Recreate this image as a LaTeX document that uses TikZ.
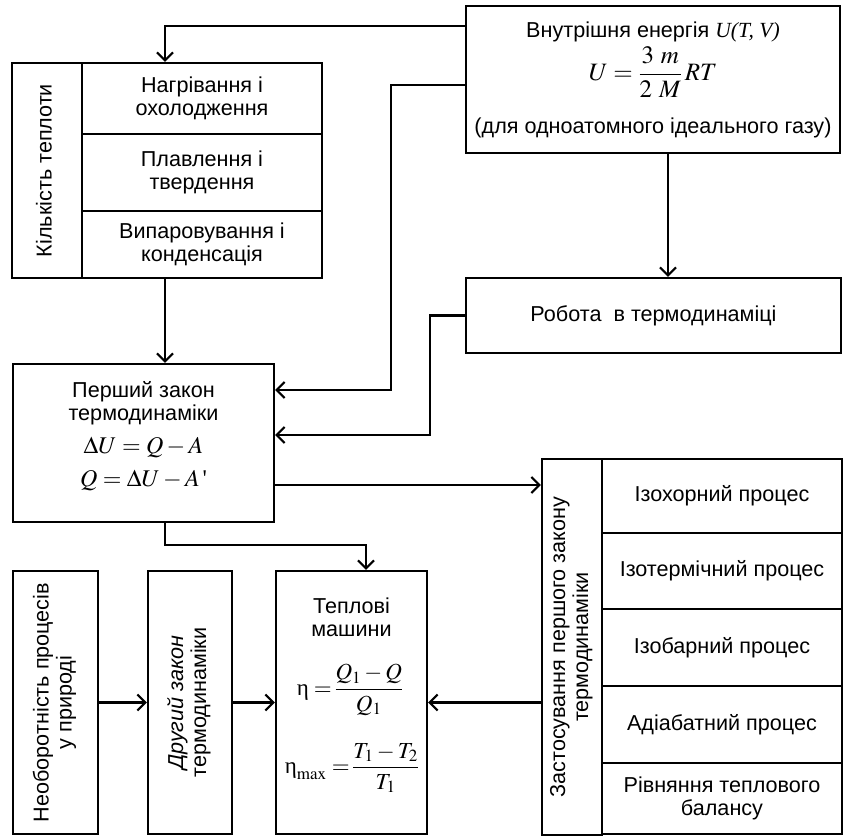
\documentclass[tikz,border=0pt]{standalone}
\usepackage{amsmath}
\usepackage{mathptmx}
\usepackage[no-math]{fontspec}
\setmainfont{Liberation Sans}
\newfontfamily\serifit{Liberation Serif}
\usetikzlibrary{arrows.meta}
\newcommand{\vlabel}[1]{\rotatebox{90}{\begin{tabular}{@{}c@{}}#1\end{tabular}}}
\newcommand{\eff}{\text{\serifit η}}
% formulas are set a little larger than the labels
\newcommand{\fml}[2][25]{{\fontsize{#1}{27}\selectfont$#2$}}
\begin{document}
\begin{tikzpicture}[x=1pt,y=-1pt,
  box/.style={draw, line width=2.2pt, inner sep=2pt, align=center,
    font=\fontsize{21.6}{23}\selectfont},
  txt/.style={inner sep=0pt, align=center, font=\fontsize{21.6}{23}\selectfont},
  arr/.style={line width=2.2pt, -{Straight Barb[length=8pt,width=16pt,line width=2.2pt]}}]
\useasboundingbox (0,0) rectangle (843,836);

% quantity of heat block
\node[box, minimum width=70pt, minimum height=215pt] (kt) at (47,170.5)
  {\vlabel{Кількість теплоти}};
\node[box, minimum width=240pt, minimum height=71pt] (k1) at (202,98.5)
  {Нагрівання і\\охолодження};
\node[box, minimum width=240pt, minimum height=77pt] (k2) at (202,172.5)
  {Плавлення і\\твердення};
\node[box, minimum width=240pt, minimum height=67pt] (k3) at (202,244.5)
  {Випаровування і\\конденсація};

% internal energy
\node[box, minimum width=374pt, minimum height=147pt] (U) at (653,79.5) {};
\node[txt] (Utitle) at (653,32) {Внутрішня енергія {\serifit\itshape U(T, V)}};
\node[txt] (Uformula) at (653,72) {\fml{U=\dfrac{3\ m}{2\ M}\,RT}};
\node[txt] (Unote) at (653,128) {(для одноатомного ідеального газу)};

% work
\node[box, minimum width=375pt, minimum height=75pt] (rb) at (653.5,315.5)
  {Робота\ \ в термодинаміці};

% first law
\node[box, minimum width=261pt, minimum height=158pt] (fl) at (143.5,443) {};
\node[txt] (fltitle) at (143.5,403) {Перший закон\\термодинаміки};
\node[txt] (fleqa) at (143.5,447) {\fml[24]{\Delta U = Q - A}};
\node[txt] (fleqb) at (143.5,480) {\fml[24]{Q = \Delta U - A\,\text{\serifit '}}};

% applications of the first law
\node[box, minimum width=60pt, minimum height=376pt] (zl) at (572,647)
  {\vlabel{Застосування першого закону\\термодинаміки}};
\node[box, minimum width=240pt, minimum height=74pt] (z1) at (722,496)
  {Ізохорний процес};
\node[box, minimum width=240pt, minimum height=76pt] (z2) at (722,571)
  {Ізотермічний процес};
\node[box, minimum width=240pt, minimum height=77pt] (z3) at (722,647.5)
  {Ізобарний процес};
\node[box, minimum width=240pt, minimum height=77pt] (z4) at (722,724.5)
  {Адіабатний процес};
\node[box, minimum width=240pt, minimum height=71pt] (z5) at (722,798.5)
  {Рівняння теплового\\балансу};

% bottom row
\node[box, minimum width=85pt, minimum height=263pt] (nb) at (55.5,702.5)
  {\vlabel{Необоротність процесів\\у природі}};
\node[box, minimum width=84pt, minimum height=263pt] (dz) at (190,702.5)
  {\vlabel{\itshape Другий закон\\термодинаміки}};
\node[box, minimum width=151pt, minimum height=263pt] (tm) at (351.5,702.5) {};
\node[txt] (tmtitle) at (351.5,617) {Теплові\\машини};
\node[txt] (tmeqa) at (350,690) {\fml[23]{\eff = \!\dfrac{Q_1 - Q}{Q_1}}};
\node[txt] (tmeqb) at (352,768) {\fml[23]{\eff_{\max} = \!\dfrac{T_1 - T_2}{T_1}}};

% connectors
\draw[arr] ([yshift=-21pt]U.north west) -| ([xshift=-37pt]k1.north);
\draw[arr] ([yshift=-80pt]U.north west) -- ++(-74,0) |- ([yshift=53pt]fl.east);
\draw[arr] (rb.west) -- ++(-35,0) |- ([yshift=8pt]fl.east);
\draw[arr] ([xshift=15pt]U.south) -- ([xshift=15pt]U.south |- rb.north);
\draw[arr] ([xshift=-37pt]k3.south) -- ([xshift=-37pt]k3.south |- fl.north);
\draw[arr] ([yshift=-42pt]fl.east) -- ([yshift=-42pt]fl.east -| zl.west);
\draw[arr] ([xshift=21.5pt]fl.south) -- ++(0,22) -| ([xshift=14.5pt]tm.north);
\draw[arr] (nb.east) -- (dz.west);
\draw[arr] (dz.east) -- (tm.west);
\draw[arr] (zl.west |- tm.east) -- (tm.east);
\end{tikzpicture}
\end{document}
